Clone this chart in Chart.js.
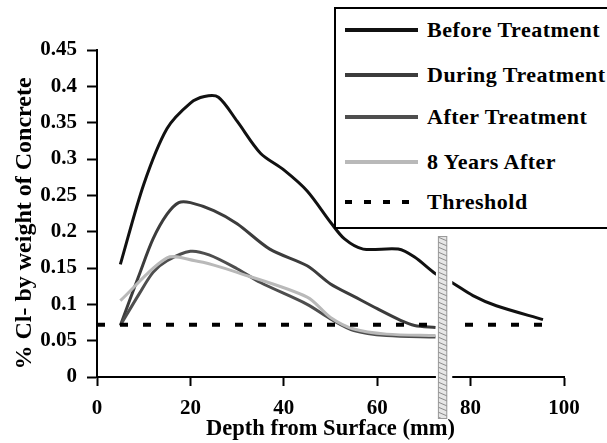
<!DOCTYPE html>
<html>
<head>
<meta charset="utf-8">
<script src="https://cdn.jsdelivr.net/npm/chart.js@4.4.1/dist/chart.umd.min.js"></script>
<style>
  html, body { margin: 0; padding: 0; background: #fff; overflow: hidden; }
  #wrap { position: relative; width: 607px; height: 443px; }
  #legend {
    position: absolute; left: 334px; top: 7px; width: 282px; height: 222px;
    box-sizing: border-box; border: 2px solid #000; background: #fff;
    font: bold 22px "Liberation Serif", "Times New Roman", serif; color: #000;
    letter-spacing: 0.5px;
  }
  .row { position: absolute; left: 0; right: 0; height: 26px; }
  .swatch { position: absolute; left: 9px; top: 11px; width: 73px; height: 4px; }
  .label { position: absolute; left: 91px; top: 0; line-height: 26px; white-space: nowrap; }
</style>
</head>
<body>
<div id="wrap">
  <canvas id="chart" width="607" height="443"></canvas>
  <div id="legend"></div>
</div>
<script>
// Chloride profiles (% Cl- by weight of concrete) against depth (mm)
const seriesNames = ['Before Treatment', 'During Treatment', 'After Treatment', '8 Years After', 'Threshold'];

const depthsBefore = [5, 10, 15, 20, 23, 26, 30, 35, 40, 45, 50, 53, 57, 64.5, 68, 72.5, 76, 80.5, 85.5, 95.5];
const chlorideBefore = [0.155, 0.265, 0.342, 0.377, 0.386, 0.385, 0.352, 0.308, 0.285, 0.256, 0.213, 0.190, 0.176, 0.176, 0.165, 0.142, 0.130, 0.112, 0.098, 0.079];

const depthsDuring = [5, 9, 12, 15, 17.5, 20, 25, 30, 37, 45, 50, 55, 60, 65, 68, 72.5];
const chlorideDuring = [0.071, 0.140, 0.190, 0.224, 0.240, 0.240, 0.229, 0.211, 0.176, 0.153, 0.128, 0.111, 0.094, 0.078, 0.071, 0.068];

const depthsAfter = [5, 9, 12, 15, 20, 24, 30, 35, 45, 50, 55, 62, 72.5];
const chlorideAfter = [0.071, 0.114, 0.144, 0.160, 0.173, 0.168, 0.149, 0.130, 0.100, 0.080, 0.064, 0.057, 0.055];

const depths8Years = [5, 15, 21, 25, 30, 45, 50, 55, 62, 72.5];
const chloride8Years = [0.105, 0.164, 0.160, 0.154, 0.144, 0.110, 0.082, 0.066, 0.059, 0.057];

const thresholdDepths = [0, 95.5];
const thresholdValues = [0.072, 0.072];

const xTickLabels = ['0', '20', '40', '60', '80', '100'];
const yTickLabels = ['0', '0.05', '0.1', '0.15', '0.2', '0.25', '0.3', '0.35', '0.4', '0.45'];
const yTitle = '% Cl- by weight of Concrete';

// reinforcing bar position along the depth axis (mm)
const rebarFrom = 73.0, rebarTo = 75.0;

const toPoints = (xs, ys) => xs.map((x, i) => ({ x: x, y: ys[i] }));
const FONT = '"Liberation Serif", "Times New Roman", serif';

function line(label, xs, ys, color, order) {
  return {
    label: label, data: toPoints(xs, ys), borderColor: color, backgroundColor: color,
    borderWidth: 3, pointRadius: 0, tension: 0.3, fill: false, order: order,
    borderJoinStyle: 'round'
  };
}

const datasets = [
  line(seriesNames[0], depthsBefore, chlorideBefore, '#111111', 5),
  line(seriesNames[1], depthsDuring, chlorideDuring, '#3c3c3c', 4),
  line(seriesNames[2], depthsAfter, chlorideAfter, '#4e4e4e', 3),
  line(seriesNames[3], depths8Years, chloride8Years, '#b9b9b9', 2),
  {
    label: seriesNames[4], data: toPoints(thresholdDepths, thresholdValues),
    borderColor: '#000', borderWidth: 4, borderDash: [8, 15], pointRadius: 0,
    tension: 0, fill: false, order: 1, borderCapStyle: 'butt'
  }
];

// rotated y-axis title, sitting a little below the axis midpoint
const yTitlePlugin = {
  id: 'yTitle',
  afterDraw(chart) {
    const { ctx, chartArea } = chart;
    ctx.save();
    ctx.translate(25, (chartArea.top + chartArea.bottom) / 2 + 10);
    ctx.rotate(-Math.PI / 2);
    ctx.font = 'bold 24px ' + FONT;
    ctx.fillStyle = '#000';
    ctx.textAlign = 'center';
    ctx.textBaseline = 'middle';
    ctx.fillText(yTitle, 0, 0);
    ctx.restore();
  }
};

// hatched steel bar crossing the section, with a white clearance around it
const rebarPlugin = {
  id: 'rebar',
  afterDatasetsDraw(chart) {
    const { ctx, chartArea } = chart;
    const xs = chart.scales.x, ys = chart.scales.y;
    const l = xs.getPixelForValue(rebarFrom), r = xs.getPixelForValue(rebarTo);
    const top = ys.getPixelForValue(0.194);
    const bottom = chartArea.bottom + 42;
    ctx.save();
    ctx.fillStyle = '#fff';
    ctx.fillRect(l - 2, top, (r - l) + 7, bottom - top);
    ctx.fillStyle = '#e6e6e6';
    ctx.fillRect(l, top, r - l, bottom - top);
    ctx.beginPath();
    ctx.rect(l, top, r - l, bottom - top);
    ctx.clip();
    ctx.strokeStyle = '#8c8c8c';
    ctx.lineWidth = 1;
    for (let y = top - 4; y < bottom; y += 5) {
      ctx.beginPath();
      ctx.moveTo(l, y);
      ctx.lineTo(r, y + 4);
      ctx.stroke();
    }
    ctx.restore();
    ctx.save();
    ctx.strokeStyle = '#9a9a9a';
    ctx.lineWidth = 1;
    ctx.strokeRect(l + 0.5, top + 0.5, r - l - 1, bottom - top - 1);
    ctx.restore();
  }
};

const chart = new Chart(document.getElementById('chart'), {
  type: 'line',
  data: { datasets: datasets },
  plugins: [rebarPlugin, yTitlePlugin],
  options: {
    responsive: false,
    animation: false,
    devicePixelRatio: 1,
    layout: { padding: { top: 50, right: 43, left: 0, bottom: 0 } },
    plugins: { legend: { display: false }, tooltip: { enabled: false } },
    scales: {
      x: {
        type: 'linear', min: 0, max: 100,
        afterFit(scale) { scale.height = 66; },
        grid: { drawOnChartArea: false, drawTicks: true, tickLength: 9, tickWidth: 2, tickColor: '#000' },
        border: { display: true, color: '#000', width: 2 },
        ticks: {
          stepSize: 20, autoSkip: false, maxRotation: 0, padding: 10, color: '#000',
          font: { family: FONT, size: 21, weight: 'bold' },
          callback: (v, i) => xTickLabels[i]
        },
        title: {
          display: true, text: 'Depth from Surface (mm)', color: '#000',
          font: { family: FONT, size: 22.5, weight: 'bold' }, padding: { top: 0, bottom: 0 }
        }
      },
      y: {
        min: 0, max: 0.45,
        afterFit(scale) { scale.width = 97; },
        grid: { drawOnChartArea: false, drawTicks: true, tickLength: 10, tickWidth: 2, tickColor: '#000' },
        border: { display: true, color: '#000', width: 2 },
        ticks: {
          stepSize: 0.05, autoSkip: false, padding: 10, color: '#000',
          font: { family: FONT, size: 21, weight: 'bold' },
          callback: (v, i) => yTickLabels[i]
        },
        title: { display: false }
      }
    }
  }
});

// legend box built from the chart's datasets
const legend = document.getElementById('legend');
const rowCenters = [21, 66, 108, 153, 193];
chart.data.datasets.forEach((ds, i) => {
  const row = document.createElement('div');
  row.className = 'row';
  row.style.top = (rowCenters[i] - 13) + 'px';
  const sw = document.createElement('div');
  sw.className = 'swatch';
  if (ds.borderDash) {
    sw.style.background = 'repeating-linear-gradient(to right, ' + ds.borderColor + ' 0 7px, transparent 7px 19px)';
  } else {
    sw.style.background = ds.borderColor;
  }
  const lb = document.createElement('div');
  lb.className = 'label';
  lb.textContent = ds.label;
  row.appendChild(sw);
  row.appendChild(lb);
  legend.appendChild(row);
});
</script>
</body>
</html>
